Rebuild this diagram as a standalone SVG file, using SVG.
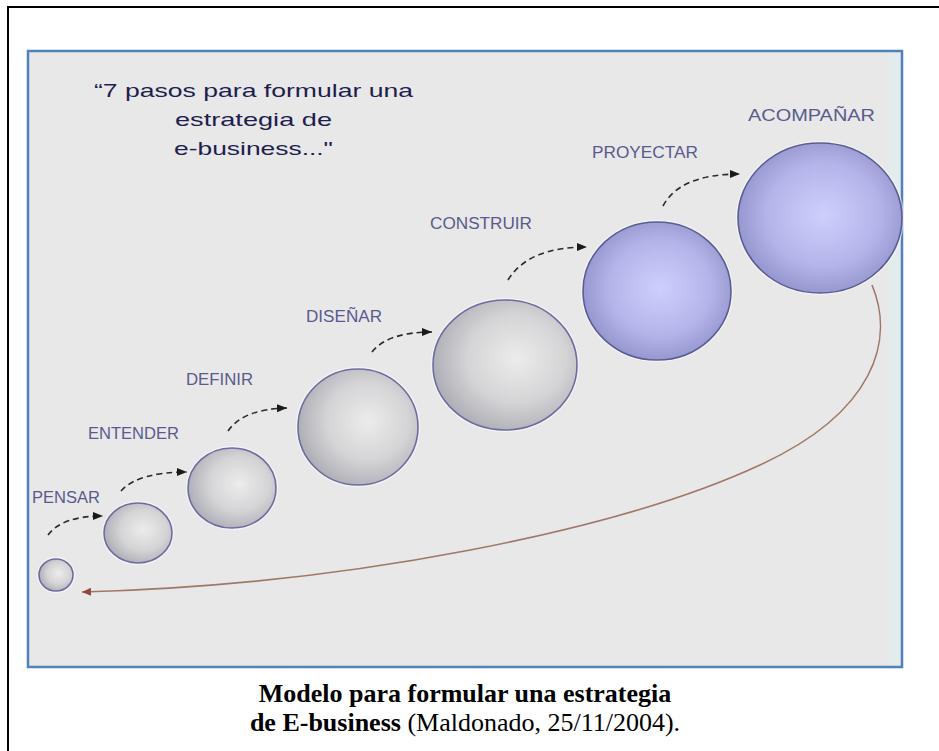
<svg xmlns="http://www.w3.org/2000/svg" width="939" height="751" viewBox="0 0 939 751">
  <defs>
    <radialGradient id="gGray" cx="58%" cy="45%" r="62%">
      <stop offset="0" stop-color="#ececec"/>
      <stop offset="0.55" stop-color="#d4d4d6"/>
      <stop offset="1" stop-color="#a9a9b2"/>
    </radialGradient>
    <radialGradient id="gBlue" cx="52%" cy="48%" r="62%">
      <stop offset="0" stop-color="#cfcffc"/>
      <stop offset="0.55" stop-color="#b4b4ea"/>
      <stop offset="1" stop-color="#8888c2"/>
    </radialGradient>
    <marker id="mDash" markerUnits="userSpaceOnUse" markerWidth="12" markerHeight="10" refX="10" refY="4" orient="auto">
      <path d="M0,0 L10,4 L0,8 Z" fill="#1a1a1a"/>
    </marker>
    <marker id="mBack" markerUnits="userSpaceOnUse" markerWidth="12" markerHeight="10" refX="9" refY="4" orient="auto">
      <path d="M0,0 L9,4 L0,8 Z" fill="#8b4a3a"/>
    </marker>
  </defs>
  <style>
    .frame-out { fill: none; stroke: #000000; stroke-width: 2; }
    .frame-in { fill: #e8e8e8; stroke: #4f81bd; stroke-width: 2.5; }
    .circ-gray { fill: url(#gGray); stroke: #6c6ca2; stroke-width: 1.6; }
    .circ-blue { fill: url(#gBlue); stroke: #5c5c94; stroke-width: 1.6; }
    .halo { fill: none; stroke: #ffffff; stroke-opacity: 0.55; stroke-width: 4; }
    .lbl { font-family: "Liberation Sans", Arial, sans-serif; font-size: 16px; fill: #5a5a8e; }
    .title { font-family: "Liberation Sans", Arial, sans-serif; font-size: 19px; fill: #1e1e4e; text-anchor: middle; }
    .cap { font-family: "Liberation Serif", "Times New Roman", serif; font-size: 26px; fill: #000000; text-anchor: middle; }
    .dash { fill: none; stroke: #2a2a2a; stroke-width: 1.6; stroke-dasharray: 6 4; marker-end: url(#mDash); }
    .back { fill: none; stroke: #a07868; stroke-width: 1.6; marker-end: url(#mBack); }
  </style>

  <rect class="frame-out" x="8" y="7" width="940" height="760"/>
  <rect class="frame-in" x="28" y="51" width="874" height="616"/>
  <rect x="888" y="53" width="12" height="612" fill="#e2ecec"/>

  <g id="title">
    <text class="title" x="253.5" y="97" textLength="319" lengthAdjust="spacingAndGlyphs">“7 pasos para formular una</text>
    <text class="title" x="253.5" y="126" textLength="157" lengthAdjust="spacingAndGlyphs">estrategia de</text>
    <text class="title" x="253.5" y="155" textLength="159" lengthAdjust="spacingAndGlyphs">e-business..."</text>
  </g>

  <g id="connectors">
    <path class="dash" d="M48,535 Q62,516 103,516"/>
    <path class="dash" d="M121,491 Q138,472 187,472"/>
    <path class="dash" d="M228,431 Q243,409 287,408"/>
    <path class="dash" d="M372,352 Q388,332 432,332"/>
    <path class="dash" d="M508,280 Q528,247 587,247"/>
    <path class="dash" d="M663,206 Q680,174 740,174"/>
    <path class="back" d="M872,285 C895,340 875,412 760,465 C620,530 350,585 82,592"/>
  </g>

  <g id="node-pensar">
    <ellipse class="halo" cx="56" cy="575" rx="17" ry="16"/>
    <ellipse class="circ-gray" cx="56" cy="575" rx="17" ry="16"/>
    <text class="lbl" x="32" y="503" textLength="68" lengthAdjust="spacingAndGlyphs">PENSAR</text>
  </g>
  <g id="node-entender">
    <ellipse class="halo" cx="138" cy="533" rx="34" ry="30"/>
    <ellipse class="circ-gray" cx="138" cy="533" rx="34" ry="30"/>
    <text class="lbl" x="88" y="439" textLength="91" lengthAdjust="spacingAndGlyphs">ENTENDER</text>
  </g>
  <g id="node-definir">
    <ellipse class="halo" cx="232" cy="488" rx="44" ry="40"/>
    <ellipse class="circ-gray" cx="232" cy="488" rx="44" ry="40"/>
    <text class="lbl" x="186" y="385" textLength="67" lengthAdjust="spacingAndGlyphs">DEFINIR</text>
  </g>
  <g id="node-disenar">
    <ellipse class="halo" cx="358" cy="427" rx="60" ry="58"/>
    <ellipse class="circ-gray" cx="358" cy="427" rx="60" ry="58"/>
    <text class="lbl" x="306" y="322" textLength="76" lengthAdjust="spacingAndGlyphs">DISEÑAR</text>
  </g>
  <g id="node-construir">
    <ellipse class="halo" cx="505" cy="365" rx="72" ry="65"/>
    <ellipse class="circ-gray" cx="505" cy="365" rx="72" ry="65"/>
    <text class="lbl" x="430" y="229" textLength="102" lengthAdjust="spacingAndGlyphs">CONSTRUIR</text>
  </g>
  <g id="node-proyectar">
    <ellipse class="halo" cx="657" cy="291" rx="74" ry="69"/>
    <ellipse class="circ-blue" cx="657" cy="291" rx="74" ry="69"/>
    <text class="lbl" x="592" y="158" textLength="106" lengthAdjust="spacingAndGlyphs">PROYECTAR</text>
  </g>
  <g id="node-acompanar">
    <ellipse class="halo" cx="820" cy="218" rx="82" ry="75"/>
    <ellipse class="circ-blue" cx="820" cy="218" rx="82" ry="75"/>
    <text class="lbl" x="748" y="121" textLength="127" lengthAdjust="spacingAndGlyphs">ACOMPAÑAR</text>
  </g>

  <g id="caption">
    <text class="cap" x="465" y="702" font-weight="bold">Modelo para formular una estrategia</text>
    <text class="cap" x="465" y="731"><tspan font-weight="bold">de E-business</tspan> (Maldonado, 25/11/2004).</text>
  </g>
</svg>
